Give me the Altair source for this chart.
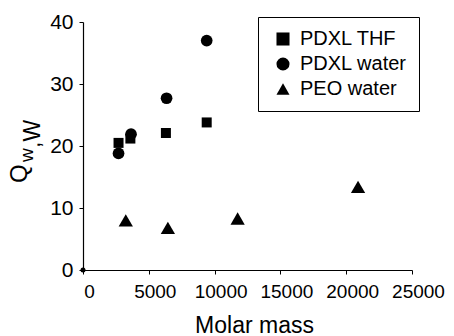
import altair as alt
import pandas as pd

FONT = "Liberation Sans"

series = ["PDXL THF", "PDXL water", "PEO water"]
shapes = ["square", "circle", "triangle-up"]
marker_sizes = [100, 137, 204]
thf_x = [2700, 3600, 6300, 9400]
thf_y = [20.5, 21.2, 22.1, 23.8]
water_x = [2700, 3650, 6350, 9400]
water_y = [18.8, 21.9, 27.7, 37.0]
peo_x = [3250, 6450, 11750, 20900]
peo_y = [8.0, 6.8, 8.3, 13.4]
origin_x = [0]
origin_y = [0]
x_ticks = list(range(0, 25001, 2500))
y_ticks = [i * 2.5 for i in range(17)]
y_title_parts = ["Q", "w", ",W"]

rows = []
for name, xs, ys in zip(series, [thf_x, water_x, peo_x], [thf_y, water_y, peo_y]):
    for a, b in zip(xs, ys):
        rows.append({"mass": a, "q": b, "series": name})
df = pd.DataFrame(rows)
df0 = pd.DataFrame({"mass": origin_x, "q": origin_y})

xenc = alt.X(
    "mass:Q",
    scale=alt.Scale(domain=[0, 25000], nice=False),
    axis=alt.Axis(
        values=x_ticks,
        format="d",
        labelExpr="datum.value % 5000 == 0 ? datum.label : ''",
        labelOverlap=False,
        labelFlush=False,
        title="Molar mass",
        titleFontSize=23,
        titleFontWeight="normal",
        titleX=171,
        titleY=62,
        titleBaseline="alphabetic",
        labelFontSize=19,
        labelPadding=8,
        labelOffset=6,
    ),
)
yenc = alt.Y(
    "q:Q",
    scale=alt.Scale(domain=[0, 40], nice=False),
    axis=alt.Axis(
        values=y_ticks,
        format="d",
        labelExpr="datum.value % 10 == 0 ? datum.label : ''",
        labelOverlap=False,
        labelFlush=False,
        title=None,
        labelFontSize=21,
        labelPadding=6,
    ),
)

shape_enc = alt.Shape(
    "series:N",
    scale=alt.Scale(domain=series, range=shapes),
    legend=alt.Legend(title=None),
)

layers = []
for name, sz in zip(series, marker_sizes):
    layers.append(
        alt.Chart(df)
        .transform_filter(alt.datum.series == name)
        .mark_point(filled=True, opacity=1, color="black", size=sz)
        .encode(x=xenc, y=yenc, shape=shape_enc)
    )

origin = alt.Chart(df0).mark_circle(color="black", opacity=1, size=25).encode(
    x="mass:Q", y="q:Q"
)

def ytext(txt, px, py, fs):
    return alt.Chart(pd.DataFrame({"t": [txt]})).mark_text(
        angle=270, align="left", baseline="alphabetic", font=FONT,
        fontSize=fs, color="black"
    ).encode(text="t:N", x=alt.value(px), y=alt.value(py))

t1 = ytext(y_title_parts[0], -56, 161, 24)
t2 = ytext(y_title_parts[1], -50, 140, 19)
t3 = ytext(y_title_parts[2], -43, 126, 23)

chart = (
    alt.layer(*layers, origin, t1, t2, t3)
    .properties(
        width=329,
        height=248,
        padding={"left": 83, "top": 22, "right": 42, "bottom": 66},
        autosize=alt.AutoSizeParams(type="none"),
    )
    .configure_view(stroke=None)
    .configure_axis(
        domainColor="black",
        tickColor="black",
        labelColor="black",
        titleColor="black",
        grid=False,
        labelFont=FONT,
        titleFont=FONT,
        domainWidth=1.2,
        tickWidth=1,
        tickSize=4,
    )
    .configure_legend(
        orient="none",
        legendX=175,
        legendY=-5,
        strokeColor="black",
        strokeWidth=1,
        fillColor="white",
        padding=12,
        symbolOffset=3,
        labelOffset=7,
        labelFontSize=20,
        labelFont=FONT,
        labelColor="black",
        rowPadding=5,
        symbolSize=170,
        symbolFillColor="black",
        symbolStrokeWidth=0,
    )
)

chart.save("out.html", embed_options={"renderer": "svg", "actions": False})
